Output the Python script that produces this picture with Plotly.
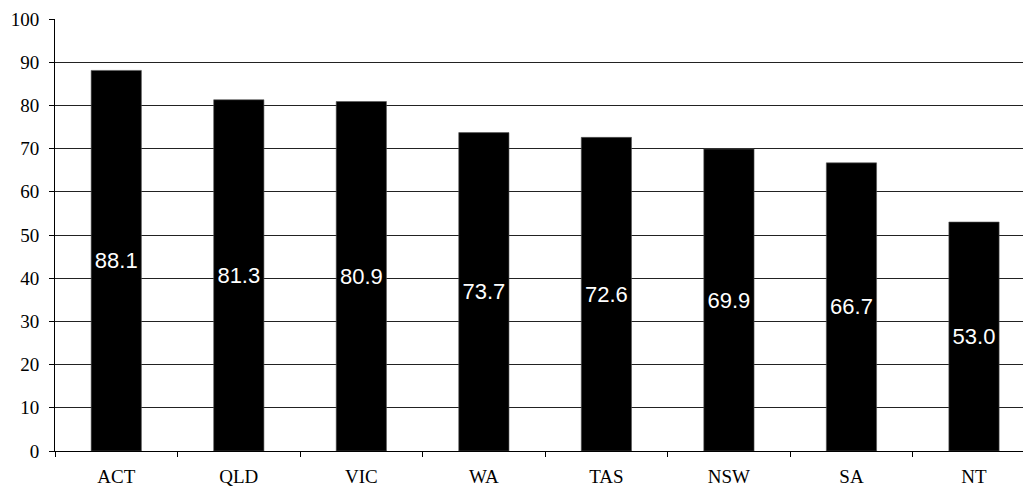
import plotly.graph_objects as go

# Share of respondents by state/territory (%)
states = ["ACT", "QLD", "VIC", "WA", "TAS", "NSW", "SA", "NT"]
values = [88.1, 81.3, 80.9, 73.7, 72.6, 69.9, 66.7, 53.0]
y_ticks = list(range(0, 101, 10))

fig = go.Figure(
    go.Bar(
        x=states,
        y=values,
        marker=dict(color="black", line=dict(color="#555555", width=0.6)),
        text=[f"{v:.1f}" for v in values],
        textposition="inside",
        insidetextanchor="middle",
        textangle=0,
        textfont=dict(family="Liberation Sans, Arial, sans-serif", size=22, color="white"),
        cliponaxis=False,
    )
)

fig.update_layout(
    width=1023,
    height=488,
    margin=dict(l=55, r=0, t=19, b=37),
    paper_bgcolor="white",
    plot_bgcolor="white",
    bargap=0.59,
    showlegend=False,
)

fig.update_xaxes(
    type="category",
    range=[-0.5, 7.4],
    showline=True,
    linecolor="black",
    linewidth=1,
    ticks="outside",
    tickson="boundaries",
    ticklen=5,
    tickcolor="black",
    showgrid=False,
    tickfont=dict(family="Liberation Serif, Times New Roman, serif", size=19, color="black"),
    ticklabelstandoff=8,
)

fig.update_yaxes(
    range=[0, 100],
    tickvals=y_ticks,
    showline=True,
    linecolor="black",
    linewidth=1,
    ticks="outside",
    ticklen=5,
    tickcolor="black",
    showgrid=True,
    gridcolor="#222222",
    gridwidth=1,
    zeroline=False,
    tickfont=dict(family="Liberation Serif, Times New Roman, serif", size=19, color="black"),
    ticklabelstandoff=6,
)

fig.write_html("out.html")
